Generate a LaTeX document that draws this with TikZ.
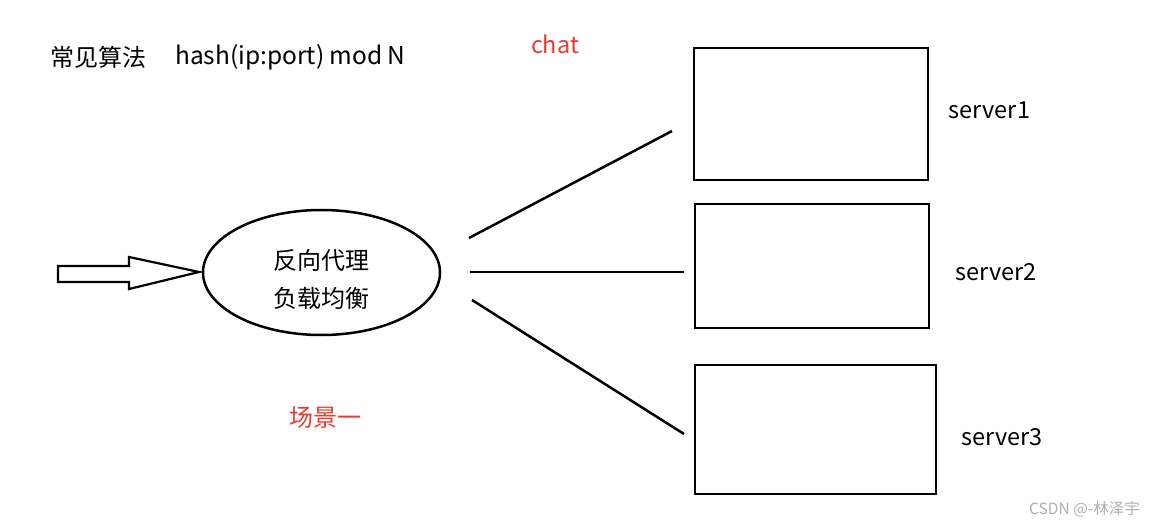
\documentclass[tikz,border=0pt]{standalone}
\usepackage{fontspec}
\setmainfont{Noto Sans CJK SC}
\usetikzlibrary{shapes.geometric}
\definecolor{redtxt}{RGB}{232,58,48}
\definecolor{wm}{RGB}{175,175,175}
\tikzset{
  ln/.style={line width=2.5pt, black},
  srv/.style={draw, line width=2.5pt, rectangle, inner sep=0pt},
  lbl/.style={font=\fontsize{24}{28}\selectfont, inner sep=0pt, anchor=center},
  srvlbl/.style={font=\fontsize{23.5}{28}\selectfont, inner sep=0pt, anchor=center},
  redlbl/.style={srvlbl, text=redtxt},
}
\begin{document}
\begin{tikzpicture}[x=1pt,y=-1pt]
\useasboundingbox[fill=white] (0,0) rectangle (1153,521);
% title
\node[lbl, anchor=west] (algo) at (50,57) {常见算法};
\node[lbl, anchor=west, font=\fontsize{24.5}{28}\selectfont] (hash) at (175,57) {hash(ip:port) mod N};
\node[redlbl] (chat) at (555,44) {chat};
\node[lbl, text=redtxt] (scene) at (325,418) {场景一};
% ellipse
\node[draw, ellipse, line width=2.5pt, minimum width=237pt, minimum height=125pt] (lb) at (321.5,272.5) {};
\node[lbl] (t1) at (321,260) {反向代理};
\node[lbl] (t2) at (321,298) {负载均衡};
% input arrow
\draw[line width=2.2pt, line join=miter] (58,266) -- (129,266) -- (129,257) -- (199,272) -- (129,289) -- (129,282) -- (58,282) -- cycle;
% servers
\node[srv, minimum width=234pt, minimum height=132pt] (s1) at (811,114) {};
\node[srv, minimum width=234pt, minimum height=124pt] (s2) at (812,266) {};
\node[srv, minimum width=241pt, minimum height=129pt] (s3) at (815.5,429.5) {};
\node[srvlbl] (l1) at (989.5,110) {server1};
\node[srvlbl] (l2) at (996,272) {server2};
\node[srvlbl] (l3) at (1002,437) {server3};
% connectors
\coordinate (a1) at (469,238);
\coordinate (b1) at (672,131);
\coordinate (a2) at (470,272);
\coordinate (b2) at (684,272);
\coordinate (a3) at (472,300);
\coordinate (b3) at (684,434);
\draw[ln] (a1) -- (b1);
\draw[ln] (a2) -- (b2);
\draw[ln] (a3) -- (b3);
% watermark
\node[font=\fontsize{15.5}{18}\selectfont, text=wm, inner sep=0pt, anchor=east] (w) at (1140,509) {CSDN @-林泽宇};
\end{tikzpicture}
\end{document}
